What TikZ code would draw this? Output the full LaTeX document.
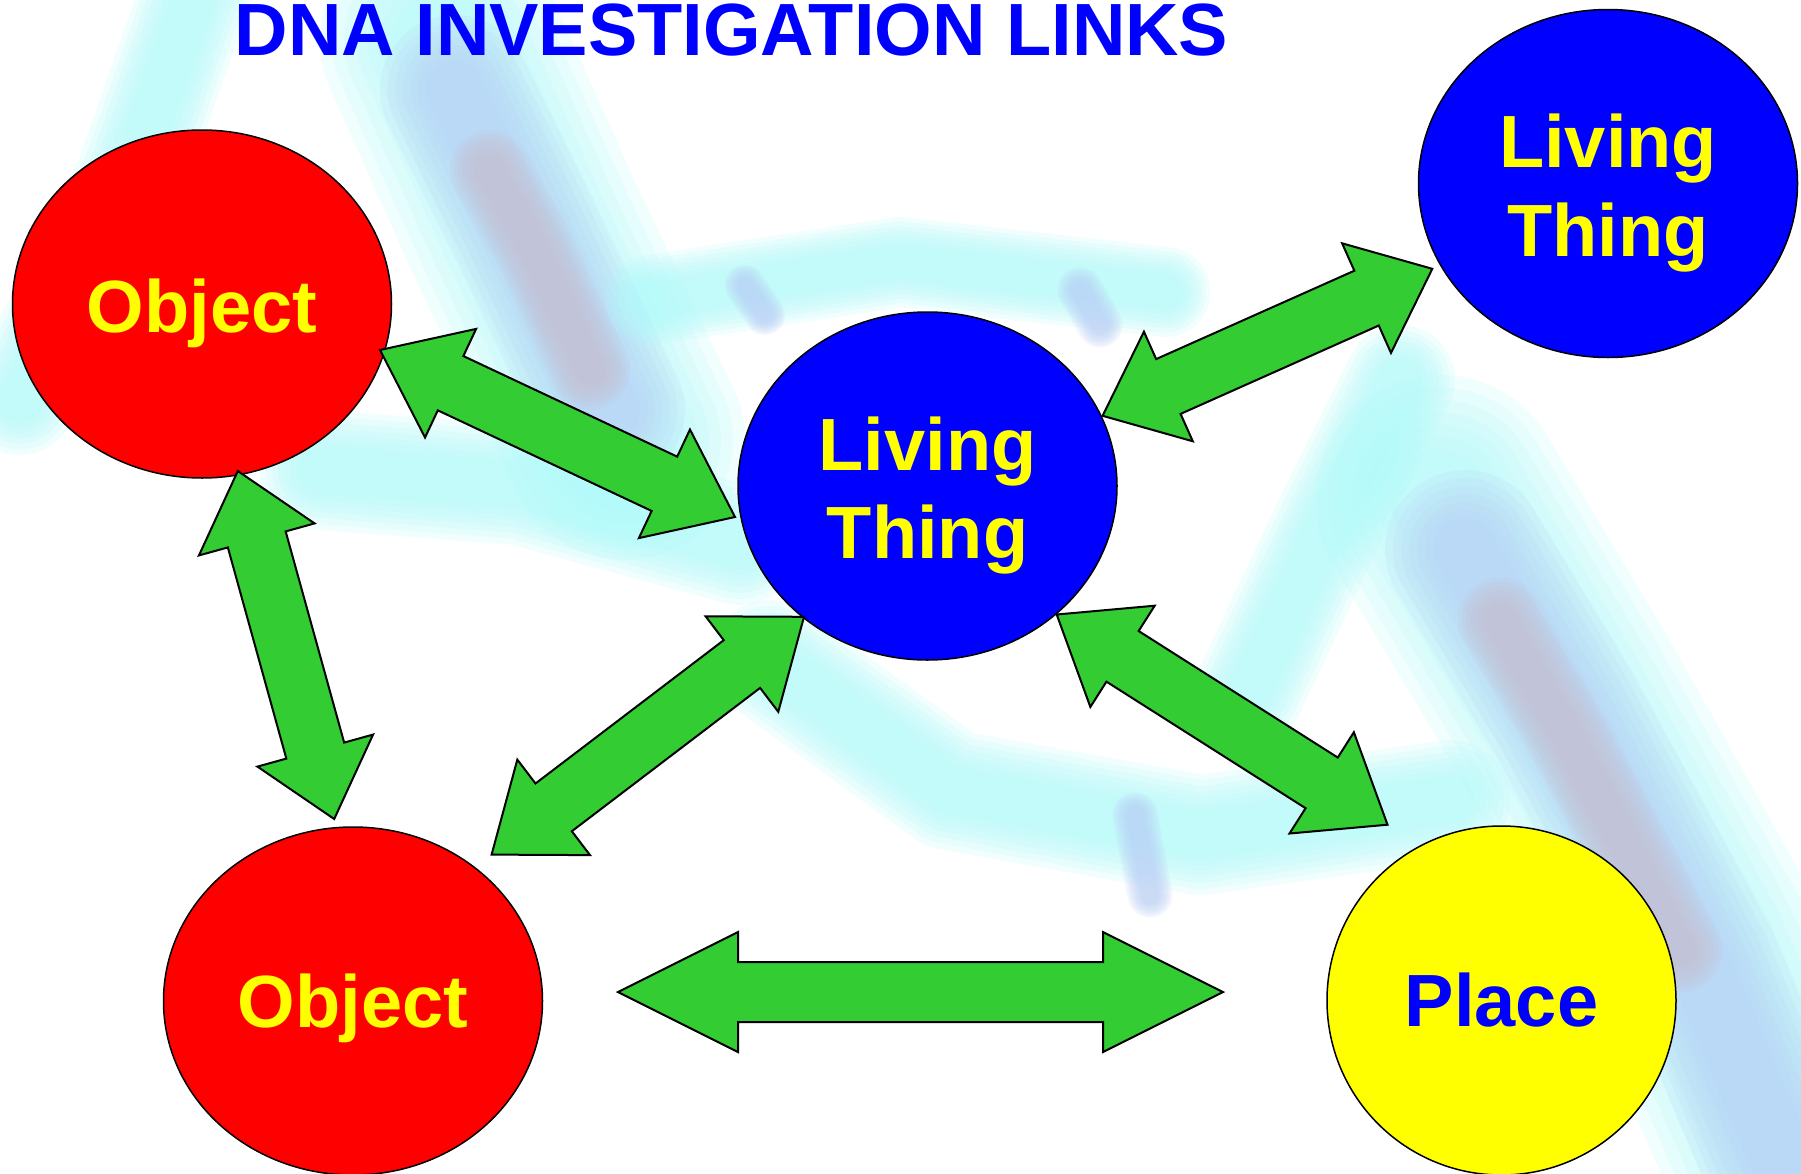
\documentclass[tikz,border=0pt]{standalone}
\usepackage{fontspec}
\setmainfont{Liberation Sans}
\usetikzlibrary{shapes.geometric,calc}
\definecolor{nodered}{RGB}{255,0,0}
\definecolor{nodeblue}{RGB}{0,0,255}
\definecolor{nodeyellow}{RGB}{255,255,0}
\definecolor{arrowgreen}{RGB}{51,204,51}
\definecolor{bgcyan}{RGB}{176,250,250}
\definecolor{bgblue}{RGB}{186,208,246}
\definecolor{bggrey}{RGB}{198,192,208}
\newcommand\softband[3]{%
  \foreach \k in {1,0.9,0.8,0.7,0.6,0.5,0.4}{%
    \draw[#1, line width=\k*#2pt, opacity=0.17, line cap=round, line join=round] #3;}}
\newcommand\dblarrow[3]{%
  \draw[blockarrow] let \p1=(#1), \p2=(#2), \n1={atan2(\y2-\y1,\x2-\x1)} in
    (\p1) -- ($(\p1)+(\n1:#3pt)+(\n1+90:60pt)$) -- ($(\p1)+(\n1:#3pt)+(\n1+90:30pt)$)
    -- ($(\p2)+(\n1:-#3pt)+(\n1+90:30pt)$) -- ($(\p2)+(\n1:-#3pt)+(\n1+90:60pt)$)
    -- (\p2) -- ($(\p2)+(\n1:-#3pt)+(\n1-90:60pt)$) -- ($(\p2)+(\n1:-#3pt)+(\n1-90:30pt)$)
    -- ($(\p1)+(\n1:#3pt)+(\n1-90:30pt)$) -- ($(\p1)+(\n1:#3pt)+(\n1-90:60pt)$) -- cycle;}
\begin{document}
\begin{tikzpicture}[x=1pt,y=-1pt,
  ell/.style={ellipse, draw=black, line width=1.5pt, minimum width=379pt, minimum height=348pt, inner sep=0pt},
  lbl/.style={font=\fontsize{74}{88}\selectfont\bfseries, inner sep=0pt},
  blockarrow/.style={fill=arrowgreen, draw=black, line width=2pt, line join=miter}]
\useasboundingbox (0,0) rectangle (1801,1173);
\fill[white] (0,0) rectangle (1801,1173);
\begin{scope}
\clip (0,0) rectangle (1801,1173);
% background DNA helix (soft)
\softband{bgcyan}{110}{(200,-20) -- (130,180) -- (20,400)}
\softband{bgcyan}{240}{(440,40) -- (525,230) -- (625,440)}
\softband{bgblue}{150}{(455,90) -- (525,230) -- (610,410)}
\softband{bggrey}{80}{(490,170) -- (535,250) -- (590,370)}
\softband{bgcyan}{90}{(650,300) -- (900,262) -- (1165,292)}
\softband{bgblue}{45}{(1080,290) -- (1100,325)}
\softband{bgblue}{40}{(745,285) -- (765,315)}
\softband{bgcyan}{120}{(320,470) -- (520,485) -- (740,545)}
\softband{bgcyan}{110}{(1400,380) -- (1330,520) -- (1250,690)}
\softband{bgcyan}{250}{(1440,500) -- (1560,700) -- (1700,950) -- (1800,1180)}
\softband{bgblue}{160}{(1465,550) -- (1565,715) -- (1700,965) -- (1790,1180)}
\softband{bggrey}{85}{(1500,620) -- (1570,740) -- (1680,950)}
\softband{bgcyan}{120}{(770,660) -- (950,790) -- (1200,835) -- (1450,800)}
\softband{bgblue}{45}{(1135,815) -- (1150,895)}
\end{scope}
% title
\node[lbl, text=nodeblue, anchor=base] (title) at (731.5,55) {DNA INVESTIGATION LINKS};
% nodes
\node[ell, fill=nodered] (objA) at (202,304) {};
\node[ell, fill=nodeblue] (livB) at (927.5,486) {};
\node[ell, fill=nodeblue] (livC) at (1608,183.5) {};
\node[ell, fill=nodered] (objD) at (353,1001) {};
\node[ell, fill=nodeyellow, minimum width=349pt, minimum height=349pt] (plE) at (1501.5,1000.5) {};
% labels
\node[lbl, text=nodeyellow, anchor=base] (objAt) at ($(objA)+(0,28)$) {Object};
\node[lbl, text=nodeyellow, anchor=base] (livBt1) at ($(livB)+(0,-16)$) {Living};
\node[lbl, text=nodeyellow, anchor=base] (livBt2) at ($(livB)+(0,72.5)$) {Thing};
\node[lbl, text=nodeyellow, anchor=base] (livCt1) at ($(livC)+(0,-16)$) {Living};
\node[lbl, text=nodeyellow, anchor=base] (livCt2) at ($(livC)+(0,72.5)$) {Thing};
\node[lbl, text=nodeyellow, anchor=base] (objDt) at ($(objD)+(0,26)$) {Object};
\node[lbl, text=nodeblue, anchor=base] (plEt) at ($(plE)+(0,26)$) {Place};
% arrow end points
\coordinate (a1s) at (380,350);
\coordinate (a1e) at (735,517);
\coordinate (a2s) at (1102.6,415.8);
\coordinate (a2e) at (1432.3,268.8);
\coordinate (a3s) at (237.8,471);
\coordinate (a3e) at (334.2,819);
\coordinate (a4s) at (804,616.8);
\coordinate (a4e) at (491.6,854.6);
\coordinate (a5s) at (1056.7,614.5);
\coordinate (a5e) at (1387.5,824.7);
\coordinate (a6s) at (618,992);
\coordinate (a6e) at (1223,992);
\dblarrow{a1s}{a1e}{78}
\dblarrow{a2s}{a2e}{72}
\dblarrow{a3s}{a3e}{71}
\dblarrow{a4s}{a4e}{78}
\dblarrow{a5s}{a5e}{78}
\dblarrow{a6s}{a6e}{120}
\end{tikzpicture}
\end{document}
